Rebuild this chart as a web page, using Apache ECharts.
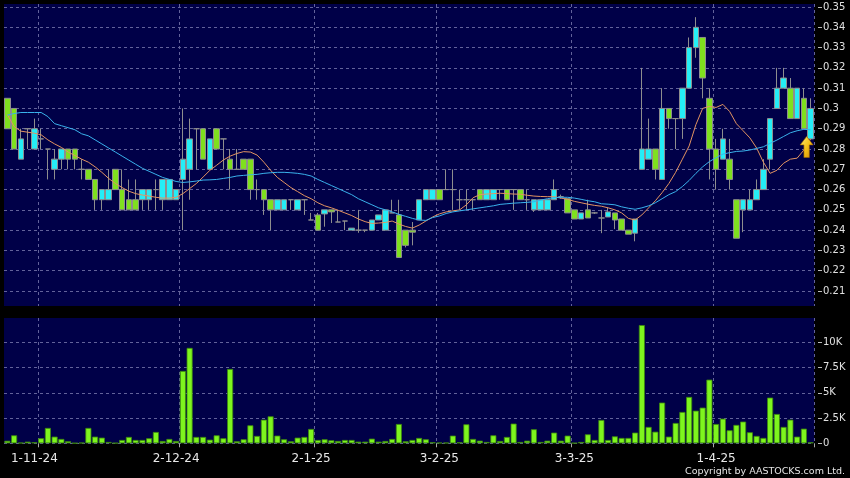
<!DOCTYPE html>
<html><head><meta charset="utf-8">
<style>html,body{margin:0;padding:0;background:#000;}#c{width:850px;height:478px;}</style>
<script src="https://cdn.jsdelivr.net/npm/echarts@6/dist/echarts.min.js"></script>
</head><body><div id="c"></div>
<script>
const categories = [
'28-10-24','29-10-24','30-10-24','31-10-24',
'1-11-24','4-11-24','5-11-24','6-11-24','7-11-24','8-11-24','11-11-24','12-11-24','13-11-24','14-11-24','15-11-24','18-11-24','19-11-24','20-11-24','21-11-24','22-11-24','25-11-24','26-11-24','27-11-24','28-11-24','29-11-24',
'2-12-24','3-12-24','4-12-24','5-12-24','6-12-24','9-12-24','10-12-24','11-12-24','12-12-24','13-12-24','16-12-24','17-12-24','18-12-24','19-12-24','20-12-24','23-12-24','24-12-24','27-12-24','30-12-24','31-12-24',
'2-1-25','3-1-25','6-1-25','7-1-25','8-1-25','9-1-25','10-1-25','13-1-25','14-1-25','15-1-25','16-1-25','17-1-25','20-1-25','21-1-25','22-1-25','23-1-25','24-1-25','27-1-25','28-1-25',
'3-2-25','4-2-25','5-2-25','6-2-25','7-2-25','10-2-25','11-2-25','12-2-25','13-2-25','14-2-25','17-2-25','18-2-25','19-2-25','20-2-25','21-2-25','24-2-25','25-2-25','26-2-25','27-2-25','28-2-25',
'3-3-25','4-3-25','5-3-25','6-3-25','7-3-25','10-3-25','11-3-25','12-3-25','13-3-25','14-3-25','17-3-25','18-3-25','19-3-25','20-3-25','21-3-25','24-3-25','25-3-25','26-3-25','27-3-25','28-3-25','31-3-25',
'1-4-25','2-4-25','3-4-25','7-4-25','8-4-25','9-4-25','10-4-25','11-4-25','14-4-25','15-4-25','16-4-25','17-4-25','22-4-25','23-4-25','24-4-25'];

const monthLabels = ['1-11-24','2-12-24','2-1-25','3-2-25','3-3-25','1-4-25'];

const opens = [0.305,0.30,0.275,0.29,0.28,0.285,0.28,0.27,0.275,0.28, 0.28,0.27,0.27,0.265,0.255,0.255,0.27,0.26,0.255,0.255,
 0.255,0.255,0.26,0.255,0.255,0.255,0.265,0.27,0.29,0.29, 0.27,0.29,0.285,0.275,0.27,0.275,0.275,0.26,0.26,0.255,
 0.25,0.25,0.255,0.25,0.255,0.245,0.2475,0.248,0.25,0.244, 0.2445,0.24,0.24,0.24,0.24,0.245,0.24,0.2485,0.2475,0.24,
 0.24,0.245,0.255,0.255,0.26,0.26,0.26,0.255,0.255,0.255, 0.26,0.255,0.255,0.26,0.26,0.26,0.26,0.255,0.25,0.25,
 0.25,0.255,0.2565,0.2555,0.25,0.2455,0.25,0.2485,0.246,0.2465, 0.2485,0.2455,0.24,0.2385,0.27,0.275,0.28,0.265,0.30,0.295,
 0.295,0.31,0.33,0.335,0.305,0.28,0.275,0.275,0.255,0.25, 0.25,0.255,0.26,0.275,0.30,0.31,0.31,0.295,0.305,0.285];

const closes = [0.29,0.28,0.285,0.29,0.29,0.285,0.28,0.275,0.28,0.275, 0.275,0.27,0.265,0.255,0.26,0.26,0.26,0.25,0.25,0.25,
 0.26,0.26,0.26,0.265,0.265,0.26,0.275,0.285,0.29,0.275, 0.285,0.28,0.285,0.27,0.27,0.27,0.26,0.26,0.255,0.25,
 0.255,0.255,0.255,0.255,0.255,0.245,0.24,0.25,0.249,0.244, 0.2445,0.241,0.24,0.24,0.245,0.2475,0.25,0.2485,0.2265,0.2325,
 0.239,0.255,0.26,0.26,0.255,0.26,0.26,0.255,0.255,0.255, 0.255,0.26,0.26,0.26,0.255,0.26,0.255,0.255,0.255,0.255,
 0.255,0.26,0.2565,0.2485,0.2455,0.2485,0.246,0.2485,0.246,0.249, 0.245,0.24,0.238,0.2455,0.28,0.28,0.27,0.30,0.295,0.295,
 0.31,0.33,0.34,0.315,0.28,0.27,0.285,0.265,0.236,0.255, 0.255,0.26,0.27,0.295,0.31,0.315,0.295,0.31,0.29,0.30];

const lows = [0.29,0.28,0.275,0.28,0.28,0.28,0.265,0.265,0.27,0.27, 0.27,0.265,0.265,0.25,0.25,0.255,0.26,0.25,0.25,0.25,
 0.25,0.25,0.25,0.25,0.255,0.255,0.24,0.255,0.27,0.275, 0.27,0.28,0.27,0.26,0.27,0.27,0.255,0.255,0.2475,0.24,
 0.25,0.25,0.25,0.25,0.2475,0.245,0.24,0.2417,0.2435,0.244, 0.24,0.24,0.2387,0.239,0.24,0.245,0.24,0.2485,0.2265,0.2315,
 0.2325,0.245,0.255,0.255,0.255,0.26,0.25,0.25,0.25,0.25, 0.255,0.255,0.255,0.255,0.255,0.25,0.255,0.25,0.249,0.25,
 0.25,0.255,0.2555,0.2485,0.2455,0.2455,0.246,0.248,0.2385,0.2465, 0.2405,0.24,0.238,0.2345,0.27,0.275,0.265,0.265,0.29,0.28,
 0.285,0.31,0.325,0.305,0.265,0.26,0.275,0.26,0.236,0.239, 0.25,0.255,0.26,0.27,0.30,0.31,0.295,0.295,0.29,0.285];

const highs = [0.305,0.30,0.29,0.29,0.295,0.29,0.28,0.28,0.28,0.28, 0.28,0.275,0.27,0.265,0.26,0.27,0.27,0.27,0.265,0.265,
 0.26,0.26,0.265,0.265,0.265,0.26,0.30,0.295,0.29,0.29, 0.285,0.29,0.285,0.28,0.28,0.275,0.275,0.265,0.26,0.255,
 0.255,0.255,0.255,0.255,0.255,0.2485,0.2485,0.25,0.25,0.25, 0.2445,0.241,0.25,0.24,0.245,0.2475,0.25,0.255,0.255,0.24,
 0.244,0.255,0.26,0.26,0.26,0.27,0.27,0.26,0.26,0.255, 0.26,0.26,0.26,0.26,0.26,0.26,0.26,0.26,0.255,0.255,
 0.255,0.265,0.2575,0.2555,0.25,0.2485,0.255,0.249,0.25,0.251, 0.2485,0.2455,0.24,0.2455,0.32,0.295,0.28,0.31,0.30,0.295,
 0.31,0.335,0.345,0.335,0.31,0.285,0.29,0.285,0.255,0.255, 0.26,0.265,0.275,0.295,0.32,0.32,0.315,0.31,0.31,0.305];

const volumes = [250,790,60,165,100,500,1520,660,430,200, 20,60,1520,660,560,130,30,330,630,330,
 330,500,1120,230,430,230,7160,9440,630,630, 360,790,500,7360,200,400,1780,730,2340,2670,
 760,400,200,560,630,1420,330,400,300,230, 330,330,165,165,460,165,230,430,1910,200,
 330,530,400,100,65,65,760,100,1880,430, 260,130,790,230,630,1950,130,260,1390,130,
 260,1060,260,760,30,130,890,330,2310,330, 690,530,530,1060,11700,1620,1150,4030,660,2010,
 3100,4590,3230,3530,6300,1910,2440,1290,1820,2150, 1090,730,530,4520,2900,1620,2340,660,1450,100];

const ma10 = [0.297,0.291,0.2888,0.2883,0.2878,0.287,0.2845,0.2825,0.2808,0.2785,
 0.2768,0.275,0.2735,0.2712,0.2685,0.2655,0.263,0.261,0.2592,0.258,
 0.2573,0.2568,0.2562,0.2558,0.2558,0.2562,0.258,0.2605,0.263,0.2662,
 0.2695,0.272,0.2746,0.2765,0.2778,0.2787,0.2785,0.277,0.2735,0.2695,
 0.266,0.2635,0.261,0.259,0.257,0.2555,0.2535,0.252,0.251,0.2498,
 0.2485,0.2472,0.2455,0.2442,0.2433,0.2435,0.2438,0.2445,0.243,0.2418,
 0.241,0.2425,0.2445,0.2465,0.248,0.249,0.2495,0.25,0.2525,0.256,
 0.2575,0.2578,0.258,0.2582,0.258,0.2578,0.2577,0.2572,0.2568,0.2566,
 0.2565,0.2565,0.2558,0.2552,0.2542,0.2535,0.2528,0.2522,0.2518,0.251,
 0.25,0.2485,0.2458,0.245,0.2475,0.251,0.2545,0.2585,0.263,0.2685,
 0.275,0.2815,0.292,0.30,0.301,0.3005,0.302,0.2985,0.2925,0.289,
 0.2855,0.2805,0.2735,0.268,0.2695,0.273,0.275,0.2755,0.2795,0.285];

const ma20 = [0.2967,0.2975,0.298,0.298,0.298,0.298,0.296,0.2925,0.2915,0.2905,
 0.2895,0.2875,0.2865,0.2845,0.2825,0.2805,0.2785,0.2765,0.2745,0.2725,
 0.2705,0.269,0.2675,0.266,0.265,0.264,0.2635,0.2638,0.2642,0.2647,
 0.2648,0.265,0.2655,0.266,0.2667,0.267,0.2673,0.2675,0.268,0.2683,
 0.2685,0.2685,0.2683,0.268,0.2675,0.2667,0.265,0.2635,0.262,0.2605,
 0.259,0.2575,0.2555,0.254,0.2525,0.251,0.25,0.249,0.2478,0.2468,
 0.2458,0.245,0.2448,0.2462,0.247,0.2482,0.249,0.2495,0.25,0.2505,
 0.251,0.2515,0.252,0.2527,0.253,0.2533,0.2535,0.2537,0.254,0.2548,
 0.2555,0.256,0.2562,0.2562,0.2558,0.2552,0.2545,0.254,0.253,0.2528,
 0.2525,0.2515,0.2508,0.2503,0.251,0.252,0.2535,0.2555,0.2575,0.259,
 0.2615,0.2645,0.268,0.2712,0.2738,0.2757,0.2775,0.2782,0.2788,0.279,
 0.2795,0.2803,0.2811,0.2828,0.2844,0.2862,0.288,0.289,0.2897,0.2895];

const priceTicks = [0.21,0.22,0.23,0.24,0.25,0.26,0.27,0.28,0.29,0.3,0.31,0.32,0.33,0.34,0.35];
const volumeTicks = [0,2500,5000,7500,10000];
const arrowPrice = 0.281;

// ---- styling ----
const PANEL = '#000048';
const GRIDC = '#62629a';
const gridLineIdx = [5,26,46,64,84,105];
const dash = {color: GRIDC, type: [3,3], width: 1};
const font = 'DejaVu Sans';

const ohlc = categories.map((c, i) => [opens[i], closes[i], lows[i], highs[i]]);

const chart = echarts.init(document.getElementById('c'), null, {renderer: 'canvas'});
chart.setOption({
  backgroundColor: '#000',
  animation: false,
  grid: [
    {left: 4, right: 36, top: 4, height: 302, show: true, backgroundColor: PANEL, borderWidth: 0},
    {left: 4, right: 36, top: 318, height: 125.3, show: true, backgroundColor: PANEL, borderWidth: 0}
  ],
  xAxis: [
    {type: 'category', gridIndex: 0, data: categories, boundaryGap: true,
     axisLine: {show: false}, axisTick: {show: false}, axisLabel: {show: false},
     splitLine: {show: true, interval: (i) => gridLineIdx.includes(i), lineStyle: dash}},
    {type: 'category', gridIndex: 1, data: categories, boundaryGap: true,
     axisLine: {show: false}, offset: 2,
     axisTick: {show: true, length: 4, interval: (i) => gridLineIdx.includes(i), lineStyle: {color: '#aaa'}},
     axisLabel: {show: true, interval: (i, v) => monthLabels.includes(v), color: '#e8e8e8', fontSize: 12, fontFamily: font, margin: 8},
     splitLine: {show: true, interval: (i) => gridLineIdx.includes(i), lineStyle: dash}}
  ],
  yAxis: [
    {type: 'value', gridIndex: 0, position: 'right', min: 0.2026, max: 0.3515, offset: 4, scale: true,
     axisLine: {show: false},
     axisTick: {show: true, length: 4, customValues: priceTicks, lineStyle: {color: '#bbb'}},
     axisLabel: {show: true, customValues: priceTicks, color: '#e0e0e0', fontSize: 10, fontFamily: font, margin: 5},
     splitLine: {show: true, lineStyle: dash}},
    {type: 'value', gridIndex: 1, position: 'right', min: 0, max: 12400, offset: 4,
     axisLine: {show: false},
     axisTick: {show: true, length: 4, customValues: volumeTicks, lineStyle: {color: '#bbb'}},
     axisLabel: {show: true, customValues: volumeTicks, color: '#e0e0e0', fontSize: 10, fontFamily: font, margin: 5,
       formatter: (v) => v === 0 ? '0' : (v / 1000) + 'K'},
     splitLine: {show: true, lineStyle: dash}}
  ],
  series: [
    {type: 'candlestick', xAxisIndex: 0, yAxisIndex: 0, data: ohlc, barWidth: 6, z: 2,
     itemStyle: {color: '#25eef6', color0: '#7fe01e', borderColor: '#8e8e8e', borderColor0: '#8e8e8e', borderColorDoji: '#8e8e8e', borderWidth: 1},
     markPoint: {
       silent: true, animation: false,
       label: {show: false},
       data: [{coord: [categories[categories.length - 1], arrowPrice],
               symbol: 'path://M6,0 L12,8 L8.5,8 L8.5,20 L3.5,20 L3.5,8 L0,8 Z',
               symbolSize: [13, 21], symbolOffset: [-4, 0],
               itemStyle: {color: new echarts.graphic.LinearGradient(0, 0, 1, 1, [{offset: 0, color: '#fff07a'}, {offset: 0.5, color: '#f6c21a'}, {offset: 1, color: '#d68a00'}]),
                           borderColor: '#9a6200', borderWidth: 0.6}}]
     }},
    {type: 'line', xAxisIndex: 0, yAxisIndex: 0, data: ma10, showSymbol: false, z: 3,
     lineStyle: {color: '#e39462', width: 1}},
    {type: 'line', xAxisIndex: 0, yAxisIndex: 0, data: ma20, showSymbol: false, z: 3,
     lineStyle: {color: '#3ab2ec', width: 1}},
    {type: 'bar', xAxisIndex: 1, yAxisIndex: 1, data: volumes, barWidth: 6,
     itemStyle: {color: '#7ef51e', borderColor: '#3d8a0e', borderWidth: 0.8}}
  ],
  graphic: [
    {type: 'text', x: 845, y: 472, silent: true,
     style: {text: 'Copyright by AASTOCKS.com Ltd.', fill: '#e6e6e6', fontSize: 9.5, fontFamily: font, align: 'right', verticalAlign: 'middle'}}
  ]
});
</script>
</body></html>
